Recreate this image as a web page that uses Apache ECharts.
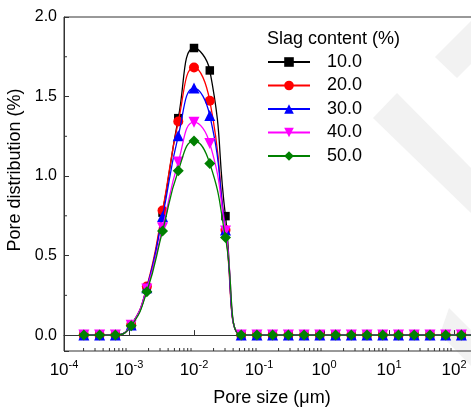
<!DOCTYPE html>
<html>
<head>
<meta charset="utf-8">
<script src="https://cdn.jsdelivr.net/npm/echarts@6/dist/echarts.min.js"></script>
<style>html,body{margin:0;padding:0;background:#fff}#c{width:471px;height:409px}</style>
</head>
<body>
<div id="c"></div>
<script>
// Pore sizes (µm) of the measured points
const poreSize = [0.000202, 0.000353, 0.000617, 0.00108, 0.00188, 0.00328, 0.00573, 0.0100, 0.0175, 0.0305,
  0.0532, 0.0929, 0.162, 0.283, 0.494, 0.863, 1.51, 2.63, 4.59, 8.02, 14.0, 24.4, 42.7, 74.5, 130, 227];
// Pore distribution (%) per slag content
const slag10 = [0, 0, 0, 0.063, 0.29, 0.77, 1.364, 1.805, 1.664, 0.748, 0, 0, 0, 0, 0, 0, 0, 0, 0, 0, 0, 0, 0, 0, 0, 0];
const slag20 = [0, 0, 0, 0.063, 0.305, 0.783, 1.343, 1.683, 1.473, 0.66, 0, 0, 0, 0, 0, 0, 0, 0, 0, 0, 0, 0, 0, 0, 0, 0];
const slag30 = [0, 0, 0, 0.063, 0.298, 0.745, 1.253, 1.553, 1.381, 0.66, 0, 0, 0, 0, 0, 0, 0, 0, 0, 0, 0, 0, 0, 0, 0, 0];
const slag40 = [0, 0, 0, 0.062, 0.29, 0.675, 1.089, 1.339, 1.205, 0.655, 0, 0, 0, 0, 0, 0, 0, 0, 0, 0, 0, 0, 0, 0, 0, 0];
const slag50 = [0, 0, 0, 0.058, 0.273, 0.654, 1.033, 1.221, 1.079, 0.613, 0, 0, 0, 0, 0, 0, 0, 0, 0, 0, 0, 0, 0, 0, 0, 0];
const seriesNames = ['10.0', '20.0', '30.0', '40.0', '50.0'];
const legendTitle = 'Slag content (%)';
const xTitle = 'Pore size (μm)';
const yTitle = 'Pore distribution (%)';
// axis extents and tick positions
const xMin = 1e-4, xMax = 251.2;
const yMin = -0.1, yMax = 2.0;
const minorMultipliers = [2, 3, 4, 5, 6, 7, 8, 9];
const decades = [-4, -3, -2, -1, 0, 1, 2];
const yMinorTicks = [0.25, 0.75, 1.25, 1.75];

const xMinorTicks = [];
decades.forEach(d => minorMultipliers.forEach(m => {
  const v = m * Math.pow(10, d);
  if (v < xMax) xMinorTicks.push(v);
}));

const FONT = "'Liberation Sans', Arial, sans-serif";
const colors = ['#000000', '#ff0000', '#0000ff', '#ff00ff', '#008000'];
const symbols = ['rect', 'circle', 'triangle', 'triangle', 'diamond'];
const symbolSizes = [8.5, 10, 11, 11, 11];
const rotates = [0, 0, 0, 180, 0];
const allData = [slag10, slag20, slag30, slag40, slag50];

const chart = echarts.init(document.getElementById('c'), null, {renderer: 'canvas'});

const lineSeries = allData.map((arr, i) => ({
  name: seriesNames[i],
  type: 'line',
  data: poreSize.map((x, j) => [x, arr[j]]),
  smooth: 0.5,
  symbol: symbols[i],
  symbolSize: symbolSizes[i],
  symbolRotate: rotates[i],
  showAllSymbol: true,
  lineStyle: {color: colors[i], width: 1.3},
  itemStyle: {color: colors[i]},
  z: 3 + i,
  animation: false
}));

const option = {
  animation: false,
  backgroundColor: '#fff',
  textStyle: {fontFamily: FONT},
  graphic: [
    {type: 'polygon', z: -10, silent: true, shape: {points: [[435, 57], [471, 21], [471, 64], [457, 78]]}, style: {fill: '#f2f2f2'}},
    {type: 'polygon', z: -10, silent: true, shape: {points: [[397, 93], [471, 168], [471, 213], [373, 118]]}, style: {fill: '#f2f2f2'}},
    {type: 'polygon', z: -10, silent: true, shape: {points: [[449, 308], [471, 330], [471, 366], [440, 334]]}, style: {fill: '#f2f2f2'}}
  ],
  title: {
    text: legendTitle, left: 267, top: 30, padding: 0,
    textStyle: {fontSize: 18, fontWeight: 'normal', color: '#000', fontFamily: FONT}
  },
  legend: {
    data: seriesNames,
    orient: 'vertical', left: 267, top: 53, padding: 0,
    itemWidth: 42, itemHeight: 12, itemGap: 5.5,
    textStyle: {fontSize: 18, color: '#000', fontFamily: FONT, padding: [0, 0, 0, 12]}
  },
  grid: {left: 64, top: 17, right: -9, bottom: 58, outerBoundsMode: 'none', containLabel: false,
    show: true, borderColor: '#333', borderWidth: 1, backgroundColor: 'transparent'},
  xAxis: {
    type: 'log', min: xMin, max: xMax, logBase: 10,
    name: xTitle, nameLocation: 'middle', nameGap: 38,
    nameTextStyle: {fontSize: 18, color: '#000', fontFamily: FONT},
    axisLine: {show: true, lineStyle: {color: '#333', width: 1}},
    axisTick: {show: true, inside: true, length: 5, lineStyle: {color: '#333'}},
    minorTick: {show: false},
    splitLine: {show: false},
    axisLabel: {
      margin: 8, color: '#000', fontFamily: FONT, hideOverlap: false,
      formatter: v => {
        const e = Math.log10(v);
        const r = Math.round(e);
        if (Math.abs(e - r) > 1e-6) return '';
        return '{b|10}{s|' + r + '}';
      },
      rich: {
        b: {fontSize: 17, color: '#000', fontFamily: FONT, lineHeight: 20, verticalAlign: 'bottom'},
        s: {fontSize: 11, color: '#000', fontFamily: FONT, lineHeight: 20, verticalAlign: 'top'}
      }
    }
  },
  yAxis: {
    type: 'value', min: yMin, max: yMax,
    name: yTitle, nameLocation: 'middle', nameGap: 34,
    nameTextStyle: {fontSize: 18, color: '#000', fontFamily: FONT, padding: [0, 0, 0, 28]},
    axisLine: {show: true, lineStyle: {color: '#333', width: 1}},
    axisTick: {show: true, inside: true, length: 5, lineStyle: {color: '#333'}},
    splitLine: {show: false},
    axisLabel: {
      margin: 7, fontSize: 16, color: '#000', fontFamily: FONT,
      formatter: v => (v < -1e-9 ? '' : v.toFixed(1))
    }
  },
  series: lineSeries.concat([
    {
      type: 'custom', silent: true, z: 20, clip: false,
      data: xMinorTicks.map(v => [v, yMin]),
      renderItem: (params, api) => {
        const p = api.coord([api.value(0), api.value(1)]);
        return {type: 'line', shape: {x1: p[0], y1: p[1], x2: p[0], y2: p[1] - 3}, style: {stroke: '#333', lineWidth: 1}};
      }
    },
    {
      type: 'custom', silent: true, z: 20, clip: false,
      data: yMinorTicks.map(v => [xMin, v]),
      renderItem: (params, api) => {
        const p = api.coord([api.value(0), api.value(1)]);
        return {type: 'line', shape: {x1: p[0], y1: p[1], x2: p[0] + 3, y2: p[1]}, style: {stroke: '#333', lineWidth: 1}};
      }
    }
  ])
};
chart.setOption(option);
</script>
</body>
</html>
